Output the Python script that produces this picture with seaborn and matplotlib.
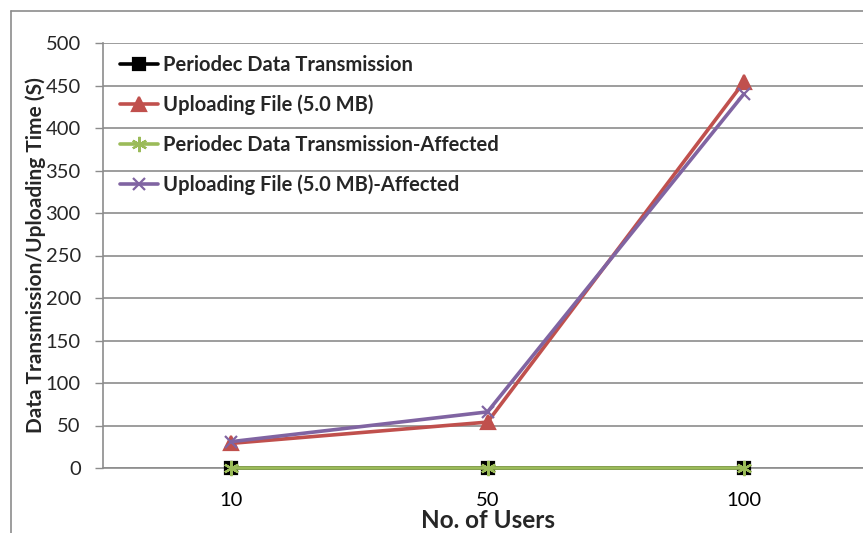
import matplotlib
matplotlib.use("Agg")
import matplotlib.pyplot as plt
from matplotlib.lines import Line2D
import seaborn as sns
import pandas as pd

# Data
users = ["10", "50", "100"]
periodic = [0, 0, 0]
uploading = [29, 54, 454]
periodic_affected = [0, 0, 0]
uploading_affected = [31, 66, 440]

series_names = [
    "Periodec Data Transmission",
    "Uploading File (5.0 MB)",
    "Periodec Data Transmission-Affected",
    "Uploading File (5.0 MB)-Affected",
]
series_values = [periodic, uploading, periodic_affected, uploading_affected]
colors = ["#000000", "#C0504D", "#9BBB59", "#8064A2"]
markers = ["s", "^", (6, 2, 0), "x"]
marker_sizes = [9, 10, 11, 9]

sns.set_theme(style="white")
plt.rcParams["font.family"] = ["Lato", "DejaVu Sans"]

W, H = 863, 533
fig = plt.figure(figsize=(W / 100, H / 100), dpi=100)
ax = fig.add_axes([103 / W, 1 - 468 / H, (872 - 103) / W, (468 - 43) / H])

for name, vals, c, m, ms in zip(series_names, series_values, colors, markers, marker_sizes):
    df = pd.DataFrame({"users": users, "value": vals})
    sns.lineplot(data=df, x="users", y="value", ax=ax, color=c, linewidth=2.6,
                 marker=m, markersize=ms, markeredgecolor=c, markeredgewidth=1.6,
                 label=name, sort=False, zorder=3, clip_on=False)

ax.set_ylim(0, 500)
ax.set_yticks(range(0, 501, 50))
ax.set_xlim(-0.5, 2.5)
ax.set_xticks([0, 1, 2])
ax.set_xticks([-0.5, 0.5, 1.5, 2.5], minor=True)
ax.tick_params(axis="x", which="major", length=0, pad=17, labelsize=14.5, colors="#000000")
ax.tick_params(axis="x", which="minor", length=7, width=1, color="#8c8c8c", direction="out")
ax.tick_params(axis="y", which="major", length=6, width=1, color="#8c8c8c", direction="out",
               labelsize=14.5, pad=10, left=True)
ax.grid(axis="y", color="#8c8c8c", linewidth=1.2)
ax.set_axisbelow(True)
for s in ["top", "right"]:
    ax.spines[s].set_visible(False)
ax.spines["left"].set_color("#8c8c8c")
ax.spines["bottom"].set_color("#8c8c8c")
ax.spines["left"].set_linewidth(1.2)
ax.spines["bottom"].set_linewidth(1.2)

ax.set_xlabel("No. of Users", fontsize=17.5, fontweight="bold", labelpad=0)
ax.set_ylabel("Data Transmission/Uploading Time (S)", fontsize=15, fontweight="bold", labelpad=0)

leg = ax.legend(loc="upper left", bbox_to_anchor=(0.0, 1.012), frameon=False,
                prop={"weight": "bold", "size": 14.5}, handlelength=1.9,
                handletextpad=0.25, labelspacing=0.97, borderaxespad=0.45)

# outer chart border
fig.add_artist(Line2D([11 / W, 11 / W], [0, 1 - 11 / H], transform=fig.transFigure,
                      color="#8c8c8c", linewidth=1.2))
fig.add_artist(Line2D([11 / W, 1], [1 - 11 / H, 1 - 11 / H], transform=fig.transFigure,
                      color="#8c8c8c", linewidth=1.2))

fig.savefig("out.png", dpi=100, facecolor="white")
